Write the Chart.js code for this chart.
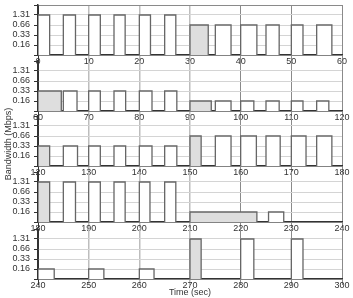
<!DOCTYPE html>
<html lang="en">
<head>
    <meta charset="UTF-8">
    <title>Bandwidth over time</title>
    <script src="https://cdn.jsdelivr.net/npm/chart.js"></script>
    <style>
        body { margin: 0; width: 353px; height: 298px; overflow: hidden; background: #fff; position: relative; }
        canvas { position: absolute; left: 0; }
        #ylab {
            position: absolute; left: 8px; top: 144px; width: 100px; margin-left: -50px; margin-top: -6px;
            text-align: center; font: 9px "Liberation Sans", Arial, sans-serif; color: #333;
            transform: rotate(-90deg); line-height: 12px; white-space: nowrap;
        }
    </style>
</head>
<body>
    <canvas id="p0" width="353" height="66" style="top:3px"></canvas>
    <canvas id="p1" width="353" height="66" style="top:59px"></canvas>
    <canvas id="p2" width="353" height="66" style="top:114px"></canvas>
    <canvas id="p3" width="353" height="66" style="top:170px"></canvas>
    <canvas id="p4" width="353" height="71" style="top:227px"></canvas>
    <div id="ylab">Bandwidth (Mbps)</div>

    <script>
        // y tick labels (Mbps), drawn on equal steps
        const yTicks = [0.16, 0.33, 0.66, 1.31];
        // each panel shows 60 s
        const panelStarts = [0, 60, 120, 180, 240];

        // bars: start time, end time (sec), bandwidth, shaded or not
        const barStart = [0, 5, 10, 15, 20, 25, 30, 35, 40, 45, 50, 55,
            60, 65, 70, 75, 80, 85, 90, 95, 100, 105, 110, 115,
            120, 125, 130, 135, 140, 145, 150, 155, 160, 165, 170, 175,
            180, 185, 190, 195, 200, 205, 210, 225.5,
            240, 250, 260, 270, 280, 290];
        const barEnd = [2.3, 7.4, 12.3, 17.2, 22.2, 27.2, 33.6, 38.1, 43.2, 47.6, 52.3, 58,
            64.6, 67.7, 72.3, 77.3, 82.5, 87.4, 94.2, 98.1, 102.6, 107.6, 112.3, 117.4,
            122.3, 127.8, 132.3, 137.3, 142.5, 147.4, 152.2, 158.1, 163.1, 167.8, 172.9, 178,
            182.3, 187.4, 192.3, 197.2, 202.1, 207.2, 223.2, 228.5,
            243.2, 253, 262.9, 272.2, 282.6, 292.3];
        const barValue = [1.31, 1.31, 1.31, 1.31, 1.31, 1.31, 0.66, 0.66, 0.66, 0.66, 0.66, 0.66,
            0.33, 0.33, 0.33, 0.33, 0.33, 0.33, 0.16, 0.16, 0.16, 0.16, 0.16, 0.16,
            0.33, 0.33, 0.33, 0.33, 0.33, 0.33, 0.66, 0.66, 0.66, 0.66, 0.66, 0.66,
            1.31, 1.31, 1.31, 1.31, 1.31, 1.31, 0.16, 0.16,
            0.16, 0.16, 0.16, 1.31, 1.31, 1.31];
        const barShaded = [0, 0, 0, 0, 0, 0, 1, 0, 0, 0, 0, 0,
            1, 0, 0, 0, 0, 0, 1, 0, 0, 0, 0, 0,
            1, 0, 0, 0, 0, 0, 1, 0, 0, 0, 0, 0,
            1, 0, 0, 0, 0, 0, 1, 0,
            0, 0, 0, 1, 0, 0];

        const FONT = { family: '"Liberation Sans", Arial, sans-serif', size: 9 };

        function barSet(points, fillColor) {
            return {
                data: points,
                showLine: true,
                fill: 'origin',
                backgroundColor: fillColor,
                borderColor: '#666',
                borderWidth: 1.3,
                pointRadius: 0,
                tension: 0,
                spanGaps: false
            };
        }

        panelStarts.forEach((t0, p) => {
            const plain = [], shaded = [];
            barStart.forEach((s, i) => {
                if (s < t0 || s >= t0 + 60) return;
                const lv = yTicks.indexOf(barValue[i]) + 1;
                const pts = barShaded[i] ? shaded : plain;
                pts.push({ x: s, y: 0 }, { x: s, y: lv }, { x: barEnd[i], y: lv }, { x: barEnd[i], y: 0 }, { x: barEnd[i], y: null });
            });
            const last = p === panelStarts.length - 1;

            new Chart(document.getElementById('p' + p), {
                type: 'line',
                data: { datasets: [barSet(plain, '#ffffff'), barSet(shaded, '#dedede')] },
                options: {
                    responsive: false,
                    animation: false,
                    layout: { padding: { top: 2, left: 0, right: 11, bottom: 0 } },
                    plugins: { legend: { display: false }, tooltip: { enabled: false } },
                    scales: {
                        x: {
                            type: 'linear',
                            min: t0,
                            max: t0 + 60,
                            afterFit: s => { s.height = last ? 19 : 14; s.paddingLeft = 0; s.paddingRight = 0; },
                            ticks: { stepSize: 10, maxRotation: 0, autoSkip: false, padding: -5, color: '#333', font: FONT },
                            grid: {
                                tickLength: 6,
                                color: c => (c.tick.value === t0 ? '#333' : (c.tick.value - t0 <= 30 ? '#bdbdbd' : '#8a8a8a')),
                                lineWidth: c => (c.tick.value - t0 <= 30 && c.tick.value !== t0 ? 1.5 : 1)
                            },
                            border: { color: '#333', width: 1.5 },
                            title: {
                                display: last,
                                text: 'Time (sec)',
                                color: '#333',
                                font: FONT,
                                padding: 0
                            }
                        },
                        y: {
                            min: 0,
                            max: 5,
                            afterFit: s => { s.width = 38; s.paddingTop = 0; s.paddingBottom = 0; },
                            ticks: {
                                stepSize: 1,
                                autoSkip: false,
                                padding: 4,
                                color: '#333',
                                font: FONT,
                                callback: v => (v >= 1 && v <= 4 ? yTicks[v - 1].toFixed(2) : '')
                            },
                            grid: {
                                tickLength: 4,
                                tickColor: '#333',
                                color: c => (c.tick.value === 5 ? (p === 0 ? '#8a8a8a' : 'rgba(0,0,0,0)') : '#d4d4d4')
                            },
                            border: { color: '#333', width: 1.5 }
                        }
                    }
                }
            });
        });
    </script>
</body>
</html>
